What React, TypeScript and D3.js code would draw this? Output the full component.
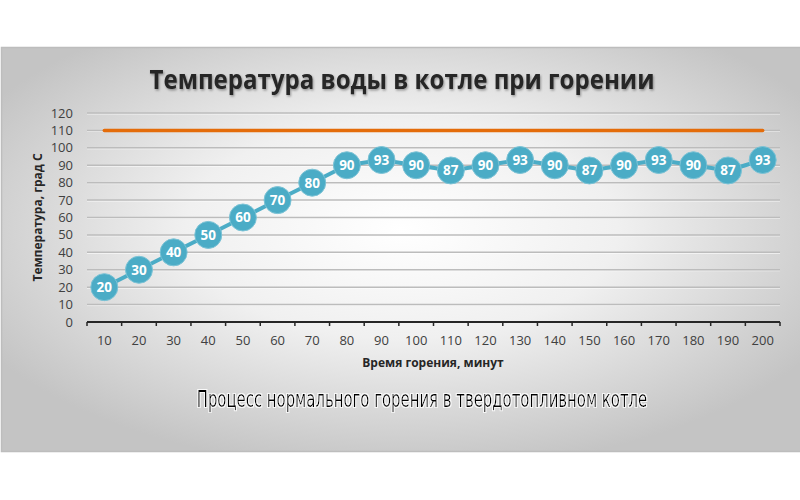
import { useLayoutEffect, useRef, useState } from "react"
import * as d3 from "d3"

const categories = ["10", "20", "30", "40", "50", "60", "70", "80", "90", "100", "110", "120", "130", "140", "150", "160", "170", "180", "190", "200"]
const temperature = [20, 30, 40, 50, 60, 70, 80, 90, 93, 90, 87, 90, 93, 90, 87, 90, 93, 90, 87, 93]
const maxTemperature = [110, 110, 110, 110, 110, 110, 110, 110, 110, 110, 110, 110, 110, 110, 110, 110, 110, 110, 110, 110]
const yTicks = [0, 10, 20, 30, 40, 50, 60, 70, 80, 90, 100, 110, 120]

const title = "Температура воды в котле при горении"
const yTitle = "Температура, град С"
const xTitle = "Время горения, минут"
const caption = "Процесс нормального горения в твердотопливном котле"

const font = "'Open Sans', 'Noto Sans', sans-serif"

const App = () => {
  const captionRef = useRef<SVGTextElement>(null)
  const [captionScale, setCaptionScale] = useState(1)

  useLayoutEffect(() => {
    // squeeze the caption horizontally to the reference width
    const w = captionRef.current?.getComputedTextLength() ?? 451
    if (w > 0) setCaptionScale(451 / w)
  }, [])

  const x = d3.scaleBand().domain(categories).range([87, 780]).padding(0)
  const y = d3.scaleLinear().domain([0, 120]).range([322, 113])
  const cx = (c: string) => (x(c) as number) + x.bandwidth() / 2

  const tempLine = d3
    .line<number>()
    .x((_, i) => cx(categories[i]))
    .y((d) => y(d))
  const maxLine = d3
    .line<number>()
    .x((_, i) => cx(categories[i]))
    .y((d) => y(d))

  // band edges for the category ticks
  const bounds = [...categories.map((c) => x(c) as number), x.range()[1]]

  return (
    <svg width={800} height={500} style={{ position: "absolute", left: 0, top: 0 }}>
      <defs>
        <radialGradient id="bg" cx="50%" cy="45%" r="60%">
          <stop offset="0%" stopColor="#ffffff" />
          <stop offset="45%" stopColor="#f0f0f0" />
          <stop offset="100%" stopColor="#c4c4c4" />
        </radialGradient>
        <filter id="shadow" x="-10%" y="-50%" width="120%" height="200%">
          <feDropShadow dx="1" dy="1.5" stdDeviation="1" floodColor="#000" floodOpacity="0.35" />
        </filter>
        <filter id="halo" x="-10%" y="-60%" width="120%" height="220%">
          <feMorphology in="SourceAlpha" operator="dilate" radius="1" result="d" />
          <feFlood floodColor="#ffffff" floodOpacity="0.85" />
          <feComposite in2="d" operator="in" result="h" />
          <feMerge>
            <feMergeNode in="h" />
            <feMergeNode in="SourceGraphic" />
          </feMerge>
        </filter>
      </defs>
      <rect x={0} y={0} width={800} height={500} fill="#ffffff" />
      <rect x={1.5} y={47.5} width={800} height={404} fill="url(#bg)" stroke="#bdbdbd" strokeWidth={1.5} />

      <text
        x={402}
        y={89}
        textAnchor="middle"
        fontFamily={font}
        fontWeight="bold"
        fontSize={26}
        fill="#262626"
        filter="url(#shadow)"
        textLength={505}
        lengthAdjust="spacingAndGlyphs"
      >
        {title}
      </text>

      {yTicks.slice(1).map((t) => (
        <g key={t}>
          <line x1={87} x2={780} y1={y(t) + 1} y2={y(t) + 1} stroke="#ffffff" strokeOpacity={0.7} strokeWidth={1} />
          <line x1={87} x2={780} y1={y(t)} y2={y(t)} stroke="#bcbcbc" strokeWidth={1.5} />
        </g>
      ))}

      {yTicks.map((t) => (
        <text key={t} x={73} y={y(t)} dy="0.35em" textAnchor="end" fontFamily={font} fontSize={13} fill="#404040">
          {t}
        </text>
      ))}

      <line x1={87} x2={780} y1={y(0)} y2={y(0)} stroke="#262626" strokeWidth={2} />
      {bounds.map((b, i) => (
        <line key={i} x1={b} x2={b} y1={y(0)} y2={y(0) + 4} stroke="#262626" strokeWidth={1.5} />
      ))}

      {categories.map((c) => (
        <text key={c} x={cx(c)} y={345} textAnchor="middle" fontFamily={font} fontSize={13} fill="#404040">
          {c}
        </text>
      ))}

      <text
        transform={`translate(42,${y(60)}) rotate(-90)`}
        textAnchor="middle"
        fontFamily={font}
        fontWeight="bold"
        fontSize={12}
        fill="#262626"
      >
        {yTitle}
      </text>
      <text x={433} y={367} textAnchor="middle" fontFamily={font} fontWeight="bold" fontSize={12} fill="#262626">
        {xTitle}
      </text>

      <path d={maxLine(maxTemperature) as string} fill="none" stroke="#e46c0a" strokeWidth={3.5} strokeLinecap="round" />

      <path d={tempLine(temperature) as string} fill="none" stroke="#4bacc6" strokeWidth={4} strokeLinejoin="round" />
      {temperature.map((v, i) => (
        <g key={i}>
          <circle cx={cx(categories[i])} cy={y(v)} r={13.5} fill="#4bacc6" stroke="#7cc3d6" strokeWidth={1} />
          <text
            x={cx(categories[i])}
            y={y(v)}
            dy="0.36em"
            textAnchor="middle"
            fontFamily={font}
            fontWeight="bold"
            fontSize={13.5}
            fill="#ffffff"
          >
            {v}
          </text>
        </g>
      ))}

      <g transform={`translate(422,407) scale(${captionScale},1)`} filter="url(#halo)">
        <text
          ref={captionRef}
          x={0}
          y={0}
          textAnchor="middle"
          fontFamily="'DejaVu Sans Condensed', 'Liberation Sans Narrow', sans-serif"
          fontSize={23}
          fill="#000000"
        >
          {caption}
        </text>
      </g>
    </svg>
  )
}

export default App
